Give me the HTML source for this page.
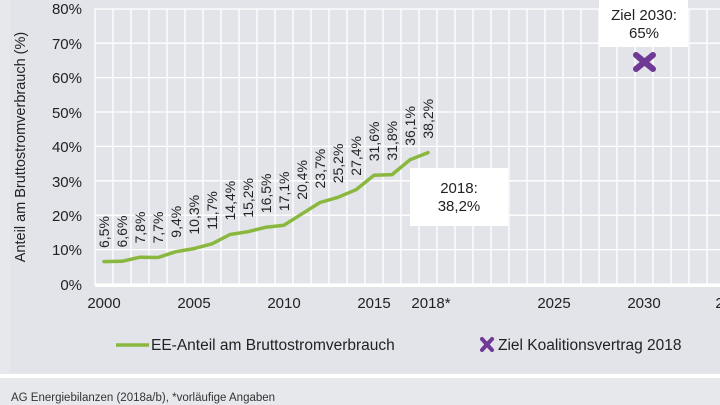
<!DOCTYPE html>
<html><head><meta charset="utf-8"><style>
html,body{margin:0;padding:0;width:720px;height:405px;overflow:hidden;background:#e4e6ea;}
svg{display:block;font-family:"Liberation Sans",sans-serif;}
</style></head><body>
<svg width="720" height="405" viewBox="0 0 720 405" xmlns="http://www.w3.org/2000/svg">
<rect x="0" y="0" width="720" height="405" fill="#e6e8ec"/>
<rect x="10" y="0" width="710" height="373" fill="#e2e4e9"/>
<rect x="0" y="374" width="720" height="4" fill="#ffffff"/>
<g stroke="#ffffff" stroke-width="1.3">
<line x1="95" y1="284" x2="720" y2="284"/><line x1="95" y1="249.6" x2="720" y2="249.6"/><line x1="95" y1="215.2" x2="720" y2="215.2"/><line x1="95" y1="180.8" x2="720" y2="180.8"/><line x1="95" y1="146.4" x2="720" y2="146.4"/><line x1="95" y1="112" x2="720" y2="112"/><line x1="95" y1="77.6" x2="720" y2="77.6"/><line x1="95" y1="43.2" x2="720" y2="43.2"/><line x1="95" y1="9" x2="720" y2="9"/>
<line x1="95" y1="9" x2="95" y2="285"/><line x1="113" y1="9" x2="113" y2="285"/><line x1="131" y1="9" x2="131" y2="285"/><line x1="149" y1="9" x2="149" y2="285"/><line x1="167" y1="9" x2="167" y2="285"/><line x1="185" y1="9" x2="185" y2="285"/><line x1="203" y1="9" x2="203" y2="285"/><line x1="221" y1="9" x2="221" y2="285"/><line x1="239" y1="9" x2="239" y2="285"/><line x1="257" y1="9" x2="257" y2="285"/><line x1="275" y1="9" x2="275" y2="285"/><line x1="293" y1="9" x2="293" y2="285"/><line x1="311" y1="9" x2="311" y2="285"/><line x1="329" y1="9" x2="329" y2="285"/><line x1="347" y1="9" x2="347" y2="285"/><line x1="365" y1="9" x2="365" y2="285"/><line x1="383" y1="9" x2="383" y2="285"/><line x1="401" y1="9" x2="401" y2="285"/><line x1="419" y1="9" x2="419" y2="285"/><line x1="437" y1="9" x2="437" y2="285"/><line x1="455" y1="9" x2="455" y2="285"/><line x1="473" y1="9" x2="473" y2="285"/><line x1="491" y1="9" x2="491" y2="285"/><line x1="509" y1="9" x2="509" y2="285"/><line x1="527" y1="9" x2="527" y2="285"/><line x1="545" y1="9" x2="545" y2="285"/><line x1="563" y1="9" x2="563" y2="285"/><line x1="581" y1="9" x2="581" y2="285"/><line x1="599" y1="9" x2="599" y2="285"/><line x1="617" y1="9" x2="617" y2="285"/><line x1="635" y1="9" x2="635" y2="285"/><line x1="653" y1="9" x2="653" y2="285"/><line x1="671" y1="9" x2="671" y2="285"/><line x1="689" y1="9" x2="689" y2="285"/><line x1="707" y1="9" x2="707" y2="285"/>
</g>
<rect x="95" y="284" width="625" height="3" fill="#ffffff"/>
<g font-size="15" fill="#222" text-anchor="end">
<text x="82" y="290">0%</text><text x="82" y="255">10%</text><text x="82" y="221">20%</text><text x="82" y="187">30%</text><text x="82" y="152">40%</text><text x="82" y="118">50%</text><text x="82" y="83">60%</text><text x="82" y="49">70%</text><text x="82" y="14">80%</text>
</g>
<text transform="translate(25,147) rotate(-90)" font-size="14.5" fill="#222" text-anchor="middle">Anteil am Bruttostromverbrauch (%)</text>
<g font-size="15" fill="#222" text-anchor="middle">
<text x="104" y="308">2000</text><text x="194" y="308">2005</text><text x="284" y="308">2010</text><text x="374" y="308">2015</text><text x="431" y="308">2018*</text><text x="554" y="308">2025</text><text x="644" y="308">2030</text><text x="732" y="308">2035</text>
</g>
<polyline fill="none" stroke="#8ab83f" stroke-width="3.5" stroke-linejoin="round" stroke-linecap="round" points="104,261.6 122,261.3 140,257.2 158,257.5 176,251.7 194,248.6 212,243.8 230,234.5 248,231.7 266,227.2 284,225.2 302,213.8 320,202.5 338,197.3 356,189.7 374,175.3 392,174.6 410,159.8 428,152.6"/>
<g font-size="14" fill="#222">
<text transform="translate(109,248) rotate(-90)">6,5%</text>
<text transform="translate(127,247.5) rotate(-90)">6,6%</text>
<text transform="translate(145,243.5) rotate(-90)">7,8%</text>
<text transform="translate(163,243.5) rotate(-90)">7,7%</text>
<text transform="translate(181,237.7) rotate(-90)">9,4%</text>
<text transform="translate(199,234.6) rotate(-90)">10,3%</text>
<text transform="translate(217,229.8) rotate(-90)">11,7%</text>
<text transform="translate(235,220.5) rotate(-90)">14,4%</text>
<text transform="translate(253,217.7) rotate(-90)">15,2%</text>
<text transform="translate(271,213.2) rotate(-90)">16,5%</text>
<text transform="translate(289,211.2) rotate(-90)">17,1%</text>
<text transform="translate(307,199.8) rotate(-90)">20,4%</text>
<text transform="translate(325,188.5) rotate(-90)">23,7%</text>
<text transform="translate(343,183.3) rotate(-90)">25,2%</text>
<text transform="translate(361,175.7) rotate(-90)">27,4%</text>
<text transform="translate(379,161.3) rotate(-90)">31,6%</text>
<text transform="translate(397,160.6) rotate(-90)">31,8%</text>
<text transform="translate(415,145.8) rotate(-90)">36,1%</text>
<text transform="translate(433,138.6) rotate(-90)">38,2%</text>
</g>
<rect x="410" y="168" width="98" height="58" fill="#ffffff"/>
<g font-size="15" fill="#222" text-anchor="middle">
<text x="459" y="193">2018:</text><text x="459" y="211">38,2%</text>
</g>
<rect x="599" y="0" width="89" height="47" fill="#ffffff"/>
<g font-size="15" fill="#222" text-anchor="middle">
<text x="644" y="20">Ziel 2030:</text><text x="644" y="38">65%</text>
</g>
<g stroke="#6f3a96" stroke-width="6" stroke-linecap="round">
<line x1="636" y1="55" x2="653" y2="69"/><line x1="653" y1="55" x2="636" y2="69"/>
</g>
<line x1="116" y1="345" x2="149" y2="345" stroke="#8ab83f" stroke-width="3.5"/>
<text x="151" y="350" font-size="15.5" fill="#222">EE-Anteil am Bruttostromverbrauch</text>
<g stroke="#6f3a96" stroke-width="4" stroke-linecap="round">
<line x1="482" y1="339" x2="492" y2="350"/><line x1="492" y1="339" x2="482" y2="350"/>
</g>
<text x="498" y="350" font-size="15.5" fill="#222">Ziel Koalitionsvertrag 2018</text>
<text x="11" y="401" font-size="11.5" fill="#333">AG Energiebilanzen (2018a/b), *vorläufige Angaben</text>
</svg>
</body></html>
